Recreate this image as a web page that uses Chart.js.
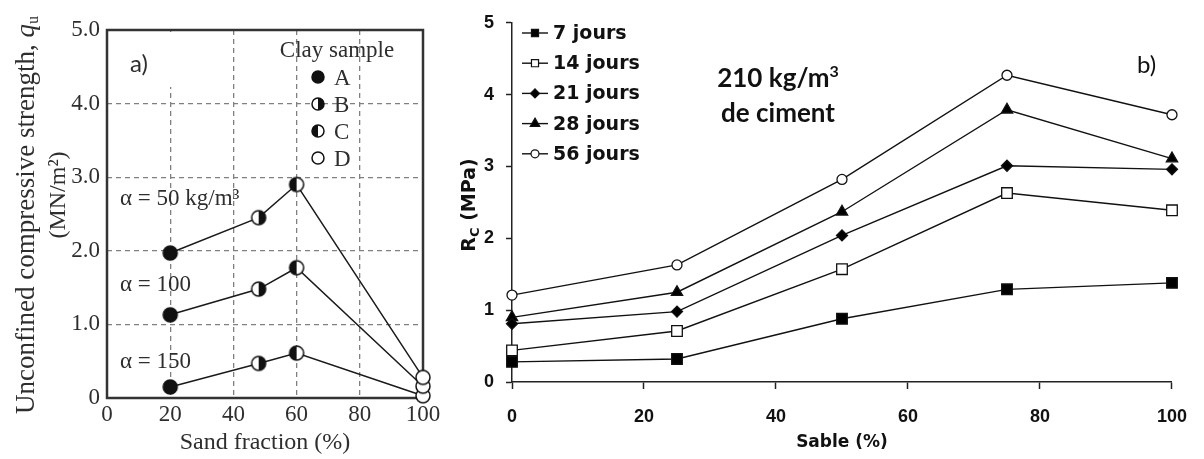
<!DOCTYPE html>
<html>
<head>
<meta charset="utf-8">
<script src="https://cdn.jsdelivr.net/npm/chart.js@4.4.1/dist/chart.umd.min.js"></script>
<style>
    body { margin: 0; background: #fff; width: 1204px; height: 459px; overflow: hidden; position: relative; }
    canvas { position: absolute; top: 0; }
    #chartSand { left: 0; }
    #chartSable { left: 440px; }
</style>
</head>
<body>
<canvas id="chartSand" width="450" height="459"></canvas>
<canvas id="chartSable" width="764" height="459"></canvas>
<script>
// a) unconfined compressive strength vs sand fraction
const sandFraction = [20, 48, 60, 100];
const claySamples = ['A', 'B', 'C', 'D'];
const qu50 = [1.97, 2.45, 2.90, 0.28];
const qu100 = [1.13, 1.48, 1.77, 0.16];
const qu150 = [0.15, 0.47, 0.61, 0.03];
const alphaLabels = ['α = 50 kg/m³', 'α = 100', 'α = 150'];
const sandTicks = [0, 20, 40, 60, 80, 100];
const quTicks = [0, 1, 2, 3, 4, 5];

// b) Rc vs sable, 210 kg/m3 de ciment
const sable = [0, 25, 50, 75, 100];
const rc7 = [0.28, 0.32, 0.88, 1.29, 1.38];
const rc14 = [0.44, 0.71, 1.57, 2.63, 2.39];
const rc21 = [0.81, 0.98, 2.04, 3.01, 2.96];
const rc28 = [0.90, 1.25, 2.37, 3.79, 3.11];
const rc56 = [1.21, 1.63, 2.82, 4.27, 3.72];
const ageLabels = ['7 jours', '14 jours', '21 jours', '28 jours', '56 jours'];

const SERIF = "'Liberation Serif', 'Times New Roman', serif";
const INK_A = '#2e2e2e';
const INK_B = '#111';

function clayMarker(kind, r) {
    const c = document.createElement('canvas');
    const s = Math.ceil(r * 2 + 4);
    c.width = c.height = s;
    const g = c.getContext('2d');
    const m = s / 2;
    g.beginPath();
    g.arc(m, m, r, 0, Math.PI * 2);
    g.fillStyle = kind === 'A' ? '#111' : '#fff';
    g.fill();
    if (kind === 'B' || kind === 'C') {
        g.beginPath();
        if (kind === 'B') g.arc(m, m, r, -Math.PI / 2, Math.PI / 2);
        else g.arc(m, m, r, Math.PI / 2, Math.PI * 1.5);
        g.closePath();
        g.fillStyle = '#111';
        g.fill();
    }
    g.beginPath();
    g.arc(m, m, r, 0, Math.PI * 2);
    g.lineWidth = 1.5;
    g.strokeStyle = '#111';
    g.stroke();
    return c;
}

const markers = claySamples.map(k => clayMarker(k, 7));
const legendMarkers = claySamples.map(k => clayMarker(k, 6));

// draws a row of text runs centred on (x, y), optionally rotated
function drawRuns(ctx, x, y, runs, angle) {
    ctx.save();
    ctx.translate(x, y);
    ctx.rotate(angle || 0);
    ctx.textBaseline = 'alphabetic';
    ctx.textAlign = 'left';
    let total = 0;
    runs.forEach(r => { ctx.font = r.font; r.w = ctx.measureText(r.text).width; total += r.w; });
    let cx = -total / 2;
    runs.forEach(r => {
        ctx.font = r.font;
        ctx.fillStyle = r.color;
        ctx.fillText(r.text, cx, r.dy || 0);
        cx += r.w;
    });
    ctx.restore();
}

const sandDecor = {
    id: 'sandDecor',
    beforeDatasetsDraw(chart) {
        const {ctx, chartArea: a} = chart;
        ctx.save();
        // blank box behind the panel tag
        ctx.fillStyle = '#fff';
        ctx.fillRect(a.left + 2, a.top + 2, 78, 55);
        ctx.strokeStyle = '#333';
        ctx.lineWidth = 2.5;
        ctx.strokeRect(a.left, a.top, a.right - a.left, a.bottom - a.top);
        ctx.restore();
    },
    afterDraw(chart) {
        const ctx = chart.ctx;
        ctx.save();
        ctx.fillStyle = INK_A;
        ctx.font = "24px Lato";
        ctx.fillText('a)', 130, 72);

        ctx.font = "23px " + SERIF;
        ctx.textAlign = 'left';
        ctx.fillText(alphaLabels[0], 120, 205);
        ctx.fillText(alphaLabels[1], 120, 291);
        ctx.fillText(alphaLabels[2], 120, 368);

        ctx.textAlign = 'center';
        ctx.fillText('Clay sample', 337, 57);
        ctx.textAlign = 'left';
        claySamples.forEach((k, i) => {
            const cy = 77 + i * 27;
            const m = legendMarkers[i];
            ctx.drawImage(m, 318 - m.width / 2, cy - m.height / 2);
            ctx.fillStyle = INK_A;
            ctx.fillText(k, 334, cy + 8);
        });
        ctx.restore();

        drawRuns(ctx, 25, 215, [
            {text: 'Unconfined compressive strength, ', font: "27px " + SERIF, color: INK_A, dy: 9},
            {text: 'q', font: "italic 27px " + SERIF, color: INK_A, dy: 9},
            {text: 'u', font: "16px " + SERIF, color: INK_A, dy: 13}
        ], -Math.PI / 2);
        drawRuns(ctx, 57, 195, [
            {text: '(MN/m²)', font: "24px " + SERIF, color: INK_A, dy: 8}
        ], -Math.PI / 2);
    }
};

new Chart(document.getElementById('chartSand'), {
    type: 'line',
    data: {
        datasets: [qu50, qu100, qu150].map((vals, j) => ({
            label: alphaLabels[j],
            data: sandFraction.map((x, i) => ({x: x, y: vals[i]})),
            borderColor: '#1a1a1a',
            borderWidth: 1.5,
            pointStyle: markers,
            clip: false
        }))
    },
    options: {
        responsive: false,
        animation: false,
        layout: { padding: { left: 0, top: 30, right: 27, bottom: 0 } },
        plugins: { legend: { display: false }, tooltip: { enabled: false } },
        scales: {
            x: {
                type: 'linear',
                min: 0,
                max: 100,
                afterBuildTicks: s => { s.ticks = sandTicks.map(v => ({value: v})); },
                ticks: {
                    font: { family: SERIF, size: 23 },
                    color: INK_A,
                    padding: 3,
                    maxRotation: 0,
                    autoSkip: false
                },
                grid: { color: '#808080', lineWidth: 1.3, drawTicks: false },
                border: { display: false, dash: [5, 4] },
                title: {
                    display: true,
                    text: 'Sand fraction (%)',
                    font: { family: SERIF, size: 24 },
                    color: INK_A,
                    padding: { top: 0, bottom: 2 }
                },
                afterFit: s => { s.height = 61; }
            },
            y: {
                min: 0,
                max: 5,
                afterBuildTicks: s => { s.ticks = quTicks.map(v => ({value: v})); },
                ticks: {
                    font: { family: SERIF, size: 23 },
                    color: INK_A,
                    padding: 7,
                    callback: v => v === 0 ? '0' : v.toFixed(1)
                },
                grid: { color: '#808080', lineWidth: 1.3, drawTicks: false },
                border: { display: false, dash: [5, 4] },
                afterFit: s => { s.width = 107; }
            }
        }
    },
    plugins: [sandDecor]
});

// ---- b) ----
const ageStyles = [
    { pointStyle: 'rect', radius: 7.5, legendRadius: 5, fill: '#000' },
    { pointStyle: 'rect', radius: 7.5, legendRadius: 5, fill: '#fff' },
    { pointStyle: 'rectRot', radius: 5.5, legendRadius: 4.5, fill: '#000' },
    { pointStyle: 'triangle', radius: 6.5, legendRadius: 5.5, fill: '#000' },
    { pointStyle: 'circle', radius: 5, legendRadius: 4, fill: '#fff' }
];

const sableDecor = {
    id: 'sableDecor',
    afterDraw(chart) {
        const ctx = chart.ctx;
        ctx.save();
        // legend: line sample, marker, label
        ctx.font = "bold 19px 'DejaVu Sans'";
        ctx.textBaseline = 'middle';
        chart.data.datasets.forEach((ds, i) => {
            const cy = 33 + i * 30.2;
            const st = ageStyles[i];
            ctx.strokeStyle = '#111';
            ctx.lineWidth = 1.4;
            ctx.beginPath();
            ctx.moveTo(82, cy);
            ctx.lineTo(108, cy);
            ctx.stroke();
            ctx.fillStyle = st.fill;
            ctx.lineWidth = 1.2;
            Chart.helpers.drawPoint(ctx, { pointStyle: st.pointStyle, radius: st.legendRadius, rotation: 0, borderWidth: 1.2 }, 95, cy);
            ctx.fillStyle = INK_B;
            ctx.fillText(ds.label, 113, cy + 1);
        });

        // cement dosage note
        ctx.textBaseline = 'alphabetic';
        drawRuns(ctx, 338, 87, [
            {text: '210 kg/m', font: "bold 26px Lato", color: INK_B},
            {text: '3', font: "bold 16px Lato", color: INK_B, dy: -10}
        ]);
        drawRuns(ctx, 338, 122, [
            {text: 'de ciment', font: "bold 26px Lato", color: INK_B}
        ]);
        ctx.font = "24px Lato";
        ctx.fillStyle = INK_B;
        ctx.textAlign = 'left';
        ctx.fillText('b)', 697, 73);
        ctx.restore();

        drawRuns(ctx, 28, 205, [
            {text: 'R', font: "bold 19px 'DejaVu Sans'", color: INK_B, dy: 7},
            {text: 'C', font: "bold 13px 'DejaVu Sans'", color: INK_B, dy: 11},
            {text: ' (MPa)', font: "bold 19px 'DejaVu Sans'", color: INK_B, dy: 7}
        ], -Math.PI / 2);
    }
};

new Chart(document.getElementById('chartSable'), {
    type: 'line',
    data: {
        datasets: [rc7, rc14, rc21, rc28, rc56].map((vals, j) => ({
            label: ageLabels[j],
            data: sable.map((x, i) => ({x: x, y: vals[i]})),
            borderColor: '#111',
            borderWidth: 1.4,
            pointStyle: ageStyles[j].pointStyle,
            pointRadius: ageStyles[j].radius,
            pointBackgroundColor: ageStyles[j].fill,
            pointBorderColor: '#111',
            pointBorderWidth: 1.3,
            clip: false
        }))
    },
    options: {
        responsive: false,
        animation: false,
        layout: { padding: { left: 0, top: 16, right: 27, bottom: 0 } },
        plugins: { legend: { display: false }, tooltip: { enabled: false } },
        scales: {
            x: {
                type: 'linear',
                min: 0,
                max: 100,
                ticks: {
                    stepSize: 20,
                    font: { family: "'Liberation Sans', Arial, sans-serif", size: 18, weight: 'bold' },
                    color: INK_B,
                    padding: 17,
                    maxRotation: 0,
                    autoSkip: false
                },
                grid: { drawOnChartArea: false, drawTicks: true, tickLength: 7, tickColor: '#222', tickWidth: 1.5 },
                border: { display: true, color: '#222', width: 1.5 },
                title: {
                    display: true,
                    text: 'Sable (%)',
                    font: { family: "'DejaVu Sans'", size: 17, weight: 'bold' },
                    color: INK_B,
                    padding: { top: 0, bottom: 6 }
                },
                afterFit: s => { s.height = 77; }
            },
            y: {
                min: 0,
                max: 5,
                ticks: {
                    stepSize: 1,
                    font: { family: "'Liberation Sans', Arial, sans-serif", size: 18, weight: 'bold' },
                    color: INK_B,
                    padding: 12
                },
                grid: { drawOnChartArea: false, drawTicks: true, tickLength: 6, tickColor: '#222', tickWidth: 1.5 },
                border: { display: true, color: '#222', width: 1.5 },
                afterFit: s => { s.width = 72; }
            }
        }
    },
    plugins: [sableDecor]
});
</script>
</body>
</html>
